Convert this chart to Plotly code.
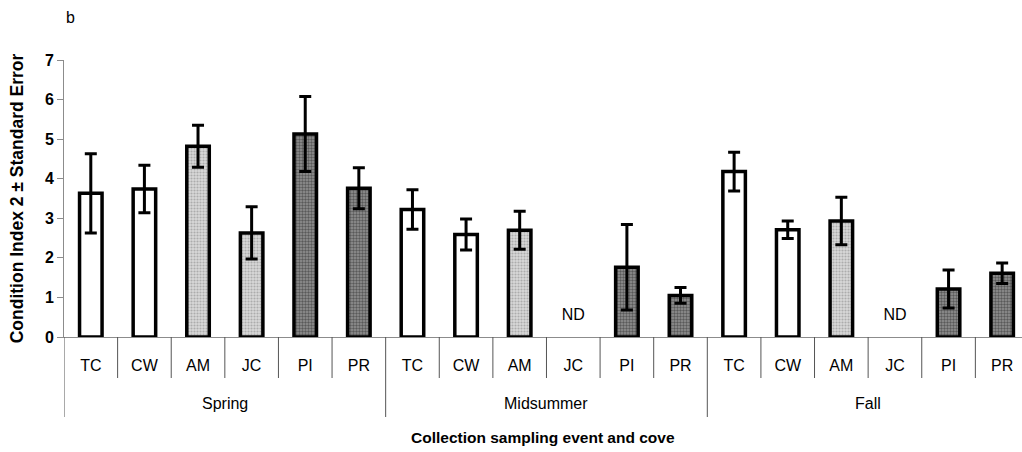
import plotly.graph_objects as go

# Sampling events (outer category) and coves (inner category)
events = ["Spring", "Midsummer", "Fall"]
coves = ["TC", "CW", "AM", "JC", "PI", "PR"]

# Condition index 2 means and standard errors per event, in cove order (None = no data)
spring_mean = [3.63, 3.74, 4.82, 2.63, 5.13, 3.76]
spring_se = [1.0, 0.6, 0.53, 0.66, 0.95, 0.52]
midsummer_mean = [3.22, 2.59, 2.70, None, 1.76, 1.05]
midsummer_se = [0.5, 0.39, 0.48, None, 1.08, 0.2]
fall_mean = [4.18, 2.71, 2.93, None, 1.21, 1.61]
fall_se = [0.49, 0.22, 0.6, None, 0.48, 0.26]

# Fill tone by cove pair
cove_fill = {"TC": "white", "CW": "white", "AM": "light", "JC": "light", "PI": "dark", "PR": "dark"}

means = {"Spring": spring_mean, "Midsummer": midsummer_mean, "Fall": fall_mean}
ses = {"Spring": spring_se, "Midsummer": midsummer_se, "Fall": fall_se}

SANS = "Liberation Sans, Arial, sans-serif"

styles = {
    "white": dict(color="white", pattern=None),
    "light": dict(color="#c8c8c8",
                  pattern=dict(shape=".", fgcolor="#808080", bgcolor="#d8d8d8", size=3, solidity=0.4)),
    "dark": dict(color="#6a6a6a",
                 pattern=dict(shape=".", fgcolor="#1e1e1e", bgcolor="#949494", size=3, solidity=0.5)),
}

# One category slot per (event, cove); the cove name is what gets printed
slots = [f"{e} {c}" for e in events for c in coves]
slot_text = [c for e in events for c in coves]

fig = go.Figure()

for tone in ["white", "light", "dark"]:
    xs, yv, ev = [], [], []
    for e in events:
        for k, c in enumerate(coves):
            if cove_fill[c] != tone:
                continue
            xs.append(f"{e} {c}")
            yv.append(means[e][k])
            ev.append(ses[e][k])
    st = styles[tone]
    marker = dict(color=st["color"], line=dict(color="black", width=3.5))
    if st["pattern"]:
        marker["pattern"] = st["pattern"]
    fig.add_trace(go.Bar(
        x=xs, y=yv,
        marker=marker,
        width=0.42,
        error_y=dict(type="data", array=ev, visible=True,
                     color="black", thickness=3, width=6),
        showlegend=False,
    ))

# "ND" markers where no data were collected
nd_x = [f"{e} {c}" for e in events for k, c in enumerate(coves) if means[e][k] is None]
fig.add_trace(go.Scatter(
    x=nd_x, y=[0.52] * len(nd_x), mode="text", text=["ND"] * len(nd_x),
    textfont=dict(family=SANS, size=16, color="black"),
    showlegend=False, hoverinfo="skip",
))

# Category separators below the axis: short ones between coves, long ones between events
x_lo, x_hi = -0.5, 17.37
plot_h = 452 - 60 - 115
shapes = []
for b in range(len(slots) + 1):
    pos = b - 0.5
    if pos > x_hi:
        break
    depth = 80 if b % len(coves) == 0 else 41
    shapes.append(dict(type="line", xref="x", yref="paper",
                       x0=pos, x1=pos, y0=0, y1=-depth / plot_h,
                       line=dict(color="#555555", width=1)))

annotations = []
# Event names centred under their six coves
for i, e in enumerate(events):
    annotations.append(dict(text=e, xref="x", yref="paper",
                            x=i * len(coves) + (len(coves) - 1) / 2, y=-67 / plot_h,
                            xanchor="center", yanchor="middle", showarrow=False,
                            font=dict(family=SANS, size=16, color="black")))
# x-axis title
annotations.append(dict(text="<b>Collection sampling event and cove</b>",
                        xref="paper", yref="paper", x=0.5, y=-100 / plot_h,
                        xanchor="center", yanchor="middle", showarrow=False,
                        font=dict(family=SANS, size=15.5, color="black")))
# panel letter
annotations.append(dict(text="b", xref="paper", yref="paper", x=0.0, y=1.155,
                        xanchor="left", yanchor="middle", showarrow=False,
                        font=dict(family=SANS, size=16, color="black")))

fig.update_layout(
    width=1022, height=452,
    margin=dict(l=64, r=0, t=60, b=115),
    plot_bgcolor="white", paper_bgcolor="white",
    barmode="overlay",
    font=dict(family=SANS, color="black", size=16),
    shapes=shapes,
    annotations=annotations,
    xaxis=dict(
        type="category",
        categoryorder="array", categoryarray=slots,
        tickmode="array", tickvals=slots, ticktext=slot_text,
        range=[x_lo, x_hi],
        showline=True, linecolor="#8c8c8c", linewidth=1,
        ticks="",
        ticklabelstandoff=14,
        tickfont=dict(family=SANS, size=16, color="black"),
        showgrid=False, zeroline=False,
    ),
    yaxis=dict(
        range=[0, 7], dtick=1,
        showline=True, linecolor="#8c8c8c", linewidth=1,
        ticks="outside", ticklen=6, tickcolor="#8c8c8c",
        tickfont=dict(family=SANS, size=16, color="black", weight="bold"),
        title=dict(text="<b>Condition Index 2 ± Standard Error</b>",
                   font=dict(family=SANS, size=17.5, color="black"), standoff=16),
        showgrid=False, zeroline=False,
    ),
)

fig.write_html("out.html")
